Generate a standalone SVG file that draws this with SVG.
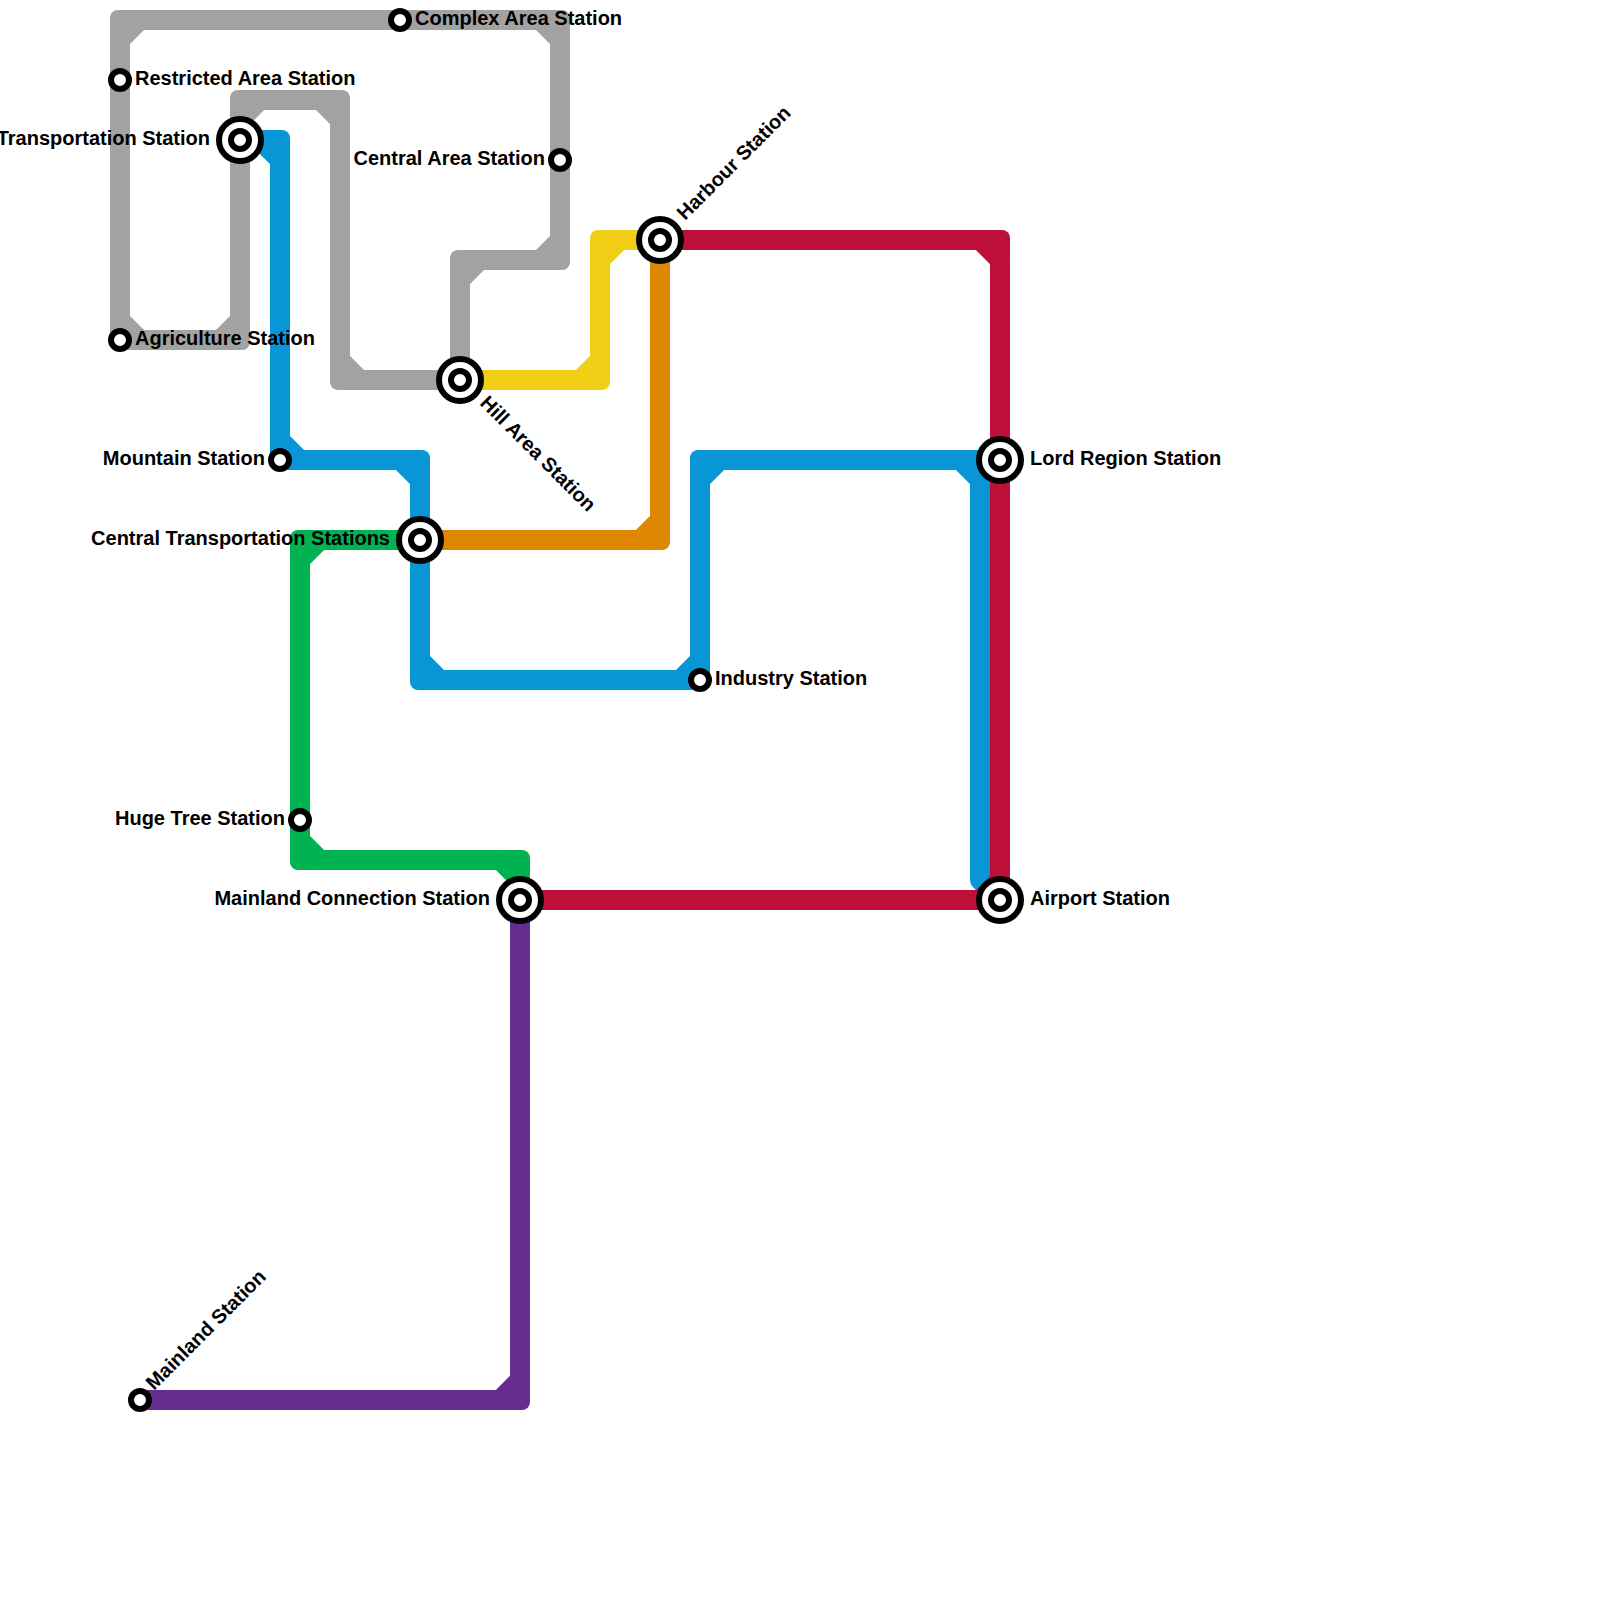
<svg xmlns="http://www.w3.org/2000/svg" width="1600" height="1600" viewBox="0 0 1600 1600">
<style>
.ln{fill:none;stroke-width:20;stroke-linejoin:round}
.g{stroke:#a2a2a2}.gf{fill:#a2a2a2}
.b{stroke:#0896d7}.bf{fill:#0896d7}
.gr{stroke:#00b251}.grf{fill:#00b251}
.o{stroke:#df8600}.of{fill:#df8600}
.y{stroke:#f0ce15}.yf{fill:#f0ce15}
.r{stroke:#bd1038}.rf{fill:#bd1038}
.p{stroke:#662c90}.pf{fill:#662c90}
.ring{fill:#fff;stroke:#000;stroke-width:6}
text{font-family:"Liberation Sans",Arial,sans-serif;font-weight:700;font-size:20px;fill:#000}
.e{text-anchor:end}
</style>
<defs>
<path id="c" d="M-10,20 V-2 A8,8 0 0 1 -2,-10 H20 Z"/>
<g id="s"><circle class="ring" r="9"/></g>
<g id="x"><circle class="ring" r="21"/><circle class="ring" r="9"/></g>
</defs>
<g id="connectors">
<g class="gf">
<path class="ln g" d="M460,380 V280 L480,260 H540 L560,240 V40 L540,20 H140 L120,40 V320 L140,340 H220 L240,320 V120 L260,100 H320 L340,120 V360 L360,380 H460"/>
<use href="#c" transform="translate(460,260)"/>
<use href="#c" transform="translate(560,260) rotate(180)"/>
<use href="#c" transform="translate(560,20) rotate(90)"/>
<use href="#c" transform="translate(120,20)"/>
<use href="#c" transform="translate(120,340) rotate(270)"/>
<use href="#c" transform="translate(240,340) rotate(180)"/>
<use href="#c" transform="translate(240,100)"/>
<use href="#c" transform="translate(340,100) rotate(90)"/>
<use href="#c" transform="translate(340,380) rotate(270)"/>
</g>
<g class="bf">
<path class="ln b" d="M240,140 H260 L280,160 V440 L300,460 H400 L420,480 V660 L440,680 H680 L700,660 V480 L720,460 H960 L980,480 V880 L1000,900 M980,460 H1000"/>
<use href="#c" transform="translate(280,140) rotate(90)"/>
<use href="#c" transform="translate(280,460) rotate(270)"/>
<use href="#c" transform="translate(420,460) rotate(90)"/>
<use href="#c" transform="translate(420,680) rotate(270)"/>
<use href="#c" transform="translate(700,680) rotate(180)"/>
<use href="#c" transform="translate(700,460)"/>
<use href="#c" transform="translate(980,460) rotate(90)"/>
</g>
<g class="grf">
<path class="ln gr" d="M420,540 H320 L300,560 V840 L320,860 H500 L520,880 V900"/>
<use href="#c" transform="translate(300,540)"/>
<use href="#c" transform="translate(300,860) rotate(270)"/>
<use href="#c" transform="translate(520,860) rotate(90)"/>
</g>
<g class="of">
<path class="ln o" d="M420,540 H640 L660,520 V240"/>
<use href="#c" transform="translate(660,540) rotate(180)"/>
</g>
<g class="yf">
<path class="ln y" d="M460,380 H580 L600,360 V260 L620,240 H660"/>
<use href="#c" transform="translate(600,380) rotate(180)"/>
<use href="#c" transform="translate(600,240)"/>
</g>
<g class="rf">
<path class="ln r" d="M660,240 H980 L1000,260 V880 L980,900 H520"/>
<use href="#c" transform="translate(1000,240) rotate(90)"/>
<use href="#c" transform="translate(1000,900) rotate(180)"/>
</g>
<g class="pf">
<path class="ln p" d="M520,900 V1380 L500,1400 H140"/>
<use href="#c" transform="translate(520,1400) rotate(180)"/>
</g>
</g>
<g id="n-complex"><use href="#s" x="400" y="20"/><text x="415" y="25">Complex Area Station</text></g>
<g id="n-restricted"><use href="#s" x="120" y="80"/><text x="135" y="85">Restricted Area Station</text></g>
<g id="n-transport"><use href="#x" x="240" y="140"/><text class="e" x="210" y="145">Transportation Station</text></g>
<g id="n-central-area"><use href="#s" x="560" y="160"/><text class="e" x="545" y="165">Central Area Station</text></g>
<g id="n-agriculture"><use href="#s" x="120" y="340"/><text x="135" y="345">Agriculture Station</text></g>
<g id="n-harbour"><use href="#x" x="660" y="240"/><text transform="translate(685,221) rotate(-45)">Harbour Station</text></g>
<g id="n-hill"><use href="#x" x="460" y="380"/><text transform="translate(479,404) rotate(45)">Hill Area Station</text></g>
<g id="n-mountain"><use href="#s" x="280" y="460"/><text class="e" x="265" y="465">Mountain Station</text></g>
<g id="n-lord"><use href="#x" x="1000" y="460"/><text x="1030" y="465">Lord Region Station</text></g>
<g id="n-central-transport"><use href="#x" x="420" y="540"/><text class="e" x="390" y="545">Central Transportation Stations</text></g>
<g id="n-industry"><use href="#s" x="700" y="680"/><text x="715" y="685">Industry Station</text></g>
<g id="n-huge-tree"><use href="#s" x="300" y="820"/><text class="e" x="285" y="825">Huge Tree Station</text></g>
<g id="n-mainland-conn"><use href="#x" x="520" y="900"/><text class="e" x="490" y="905">Mainland Connection Station</text></g>
<g id="n-airport"><use href="#x" x="1000" y="900"/><text x="1030" y="905">Airport Station</text></g>
<g id="n-mainland"><use href="#s" x="140" y="1400"/><text transform="translate(154,1391) rotate(-45)">Mainland Station</text></g>
</svg>
